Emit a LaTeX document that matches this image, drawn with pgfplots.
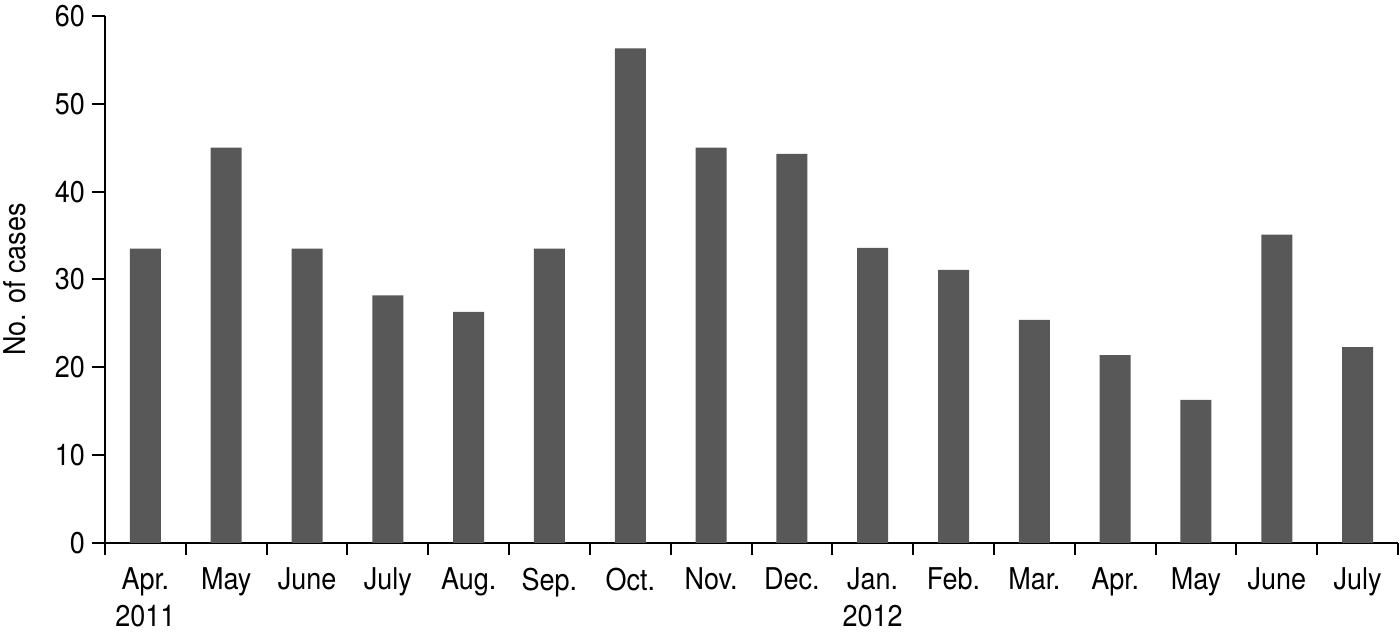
\documentclass[border=0pt]{standalone}
\usepackage{pgfplots}
\pgfplotsset{compat=1.18}
\usepackage{fontspec}
\setmainfont[FakeStretch=0.9]{TeX Gyre Heros}
\definecolor{barcol}{RGB}{88,88,88}

\begin{document}
\begin{tikzpicture}
\begin{axis}[
    scale only axis,
    width=646.5pt, height=263.5pt,
    xmin=0, xmax=16, ymin=0, ymax=60,
    axis x line*=bottom, axis y line*=left,
    axis line style={line width=1pt},
    tick align=outside,
    every tick/.style={black, line width=1pt},
    major tick length=6.5pt,
    minor tick length=6pt,
    ytick={0,10,...,60},
    xtick={0.5,1.5,...,15.5},
    minor xtick={0,1,...,16},
    major x tick style={draw=none},
    xticklabels={{Apr.\\2011},May,June,July,Aug.,Sep.,Oct.,Nov.,Dec.,{Jan.\\2012},Feb.,Mar.,Apr.,May,June,July},
    xticklabel style={align=center, anchor=north, yshift=-2.5pt, font=\fontsize{15}{18.5}\selectfont},
    yticklabel style={font=\fontsize{15}{17}\selectfont},
    /pgf/number format/assume math mode=true,
    ylabel={No. of cases},
    ylabel style={at={(axis description cs:-0.0696,0.5)}, anchor=center, font=\fontsize{15}{17}\selectfont},
]
    \addplot[ybar, bar width=15.5pt, fill=barcol, draw=none] coordinates {
        (0.5,33.5) (1.5,45) (2.5,33.5) (3.5,28.2) (4.5,26.3) (5.5,33.5)
        (6.5,56.3) (7.5,45) (8.5,44.3) (9.5,33.6) (10.5,31.1) (11.5,25.4)
        (12.5,21.4) (13.5,16.3) (14.5,35.1) (15.5,22.3)};
    \coordinate (sw) at (rel axis cs:0,0);
    \coordinate (ne) at (rel axis cs:1,1);
\end{axis}
\pgfresetboundingbox
\path[use as bounding box] ([xshift=-52.5pt,yshift=-45.5pt]sw) rectangle ([xshift=1pt,yshift=8pt]ne);
\end{tikzpicture}
\end{document}
